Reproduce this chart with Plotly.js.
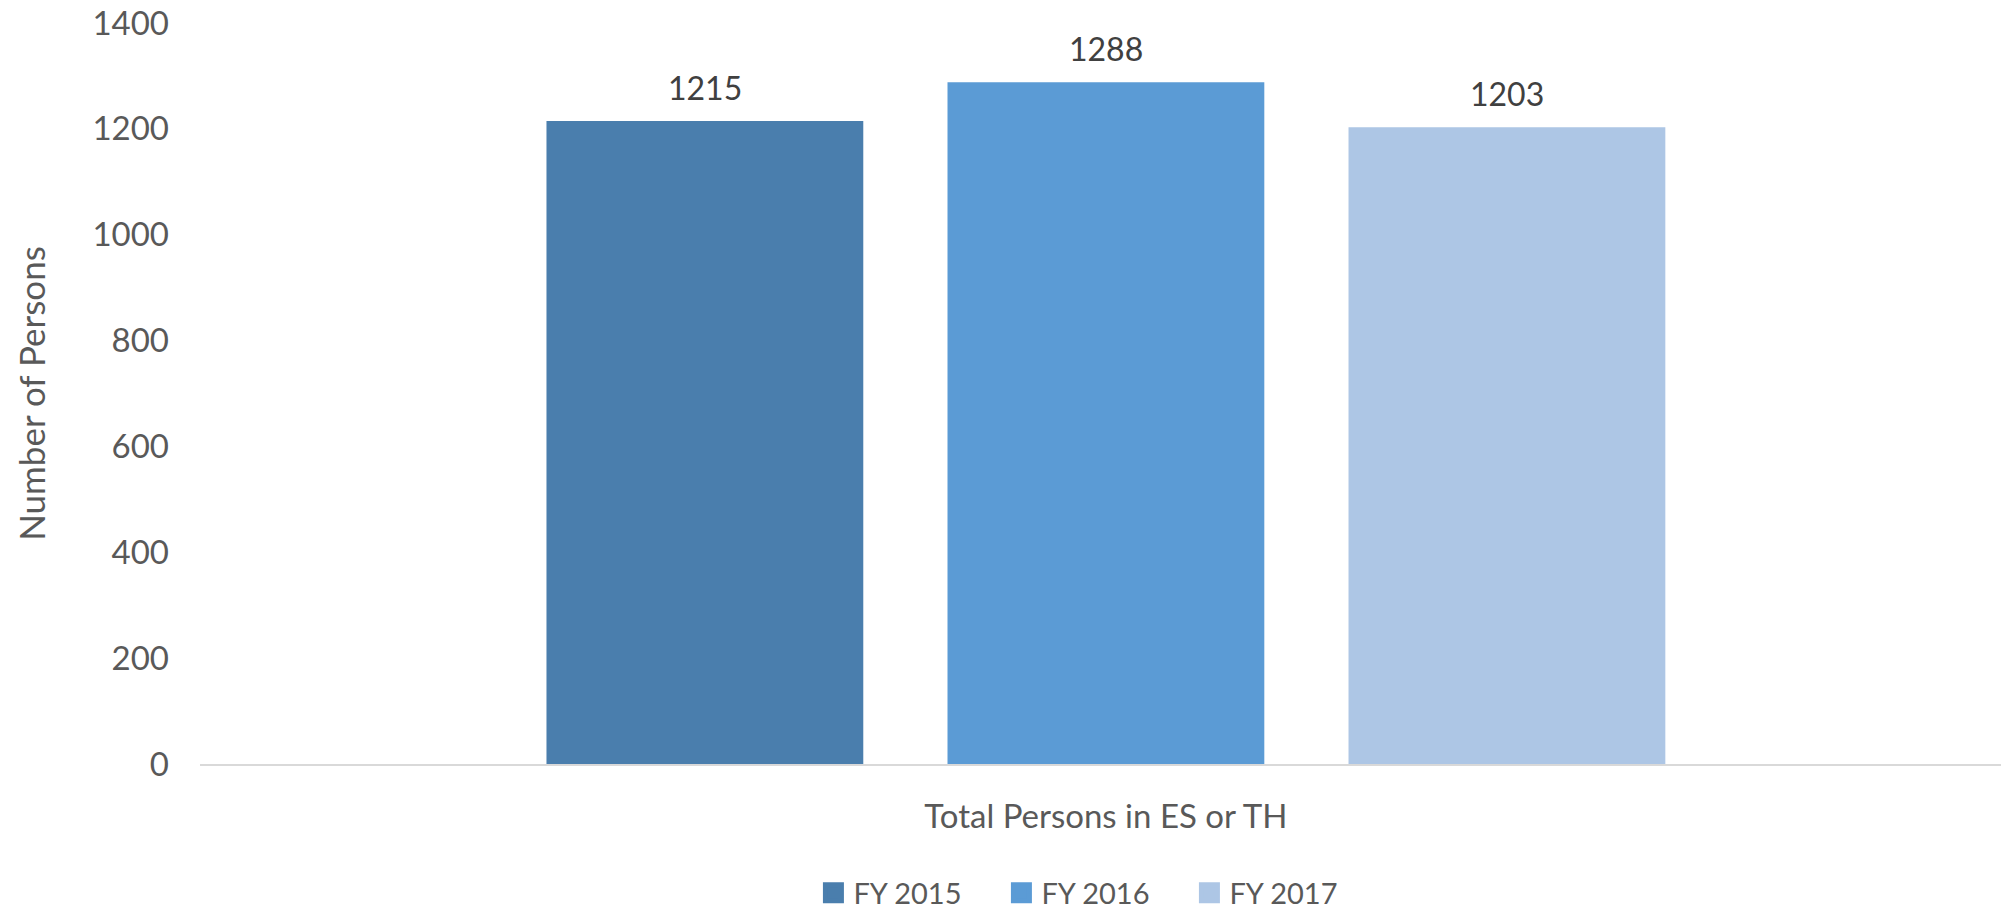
<!DOCTYPE html>
<html>
<head>
<meta charset="utf-8">
<script src="https://cdn.plot.ly/plotly-3.0.1.min.js"></script>
<style>
  html, body { margin: 0; padding: 0; background: #ffffff; }
  #chart { width: 2001px; height: 913px; }
</style>
</head>
<body>
<div id="chart"></div>
<script>
// ---- data ----
const categories = ['Total Persons in ES or TH'];
const seriesNames = ['FY 2015', 'FY 2016', 'FY 2017'];
const fy2015 = [1215];
const fy2016 = [1288];
const fy2017 = [1203];
const seriesValues = [fy2015, fy2016, fy2017];
const seriesColors = ['#4a7ead', '#5b9bd5', '#adc6e5'];
const yTickValues = [0, 200, 400, 600, 800, 1000, 1200, 1400];

const FONT = 'Lato, "Open Sans", sans-serif';
const BARGAP = 0.332;
const BARGROUPGAP = 0.21;

const traces = [];
// bars (legend shown by proxy markers below)
seriesValues.forEach((vals, k) => {
  traces.push({
    type: 'bar',
    name: seriesNames[k],
    x: categories,
    y: vals,
    marker: { color: seriesColors[k] },
    showlegend: false,
    hoverinfo: 'x+y+name'
  });
});
// legend proxies (square swatches)
seriesNames.forEach((nm, k) => {
  traces.push({
    type: 'scatter',
    mode: 'markers',
    name: nm,
    x: [null],
    y: [null],
    marker: { symbol: 'square', size: 16, color: seriesColors[k],
              line: { color: seriesColors[k], width: 5 } },
    showlegend: true
  });
});

// data labels, placed through the axis scales
const annotations = [];
const slot = (1 - BARGAP) / seriesValues.length;
seriesValues.forEach((vals, k) => {
  vals.forEach((v, i) => {
    annotations.push({
      xref: 'x', yref: 'y',
      x: i + (k - (seriesValues.length - 1) / 2) * slot,
      y: v,
      text: String(v),
      showarrow: false,
      yanchor: 'bottom',
      xanchor: 'center',
      yshift: 12,
      font: { family: FONT, size: 32, color: '#404040' }
    });
  });
});

const layout = {
  width: 2001,
  height: 913,
  margin: { l: 200, r: 0, t: 23, b: 149, pad: 0, autoexpand: false },
  paper_bgcolor: '#ffffff',
  plot_bgcolor: '#ffffff',
  barmode: 'group',
  bargap: BARGAP,
  bargroupgap: BARGROUPGAP,
  showlegend: true,
  font: { family: FONT, color: '#595959' },
  xaxis: {
    type: 'category',
    range: [-0.503, 0.497],
    showgrid: false,
    zeroline: false,
    showline: true,
    linecolor: '#d9d9d9',
    linewidth: 2,
    ticks: '',
    ticklabelstandoff: 22,
    tickfont: { family: FONT, size: 33, color: '#595959' }
  },
  yaxis: {
    range: [0, 1400],
    tickvals: yTickValues,
    showgrid: false,
    zeroline: false,
    showline: false,
    ticks: '',
    ticklabelstandoff: 30,
    tickfont: { family: FONT, size: 33, color: '#595959' },
    title: { text: 'Number of Persons', standoff: 36,
             font: { family: FONT, size: 35, color: '#595959' } }
  },
  legend: {
    orientation: 'h',
    x: 0.3406, xanchor: 'left',
    y: -0.1395, yanchor: 'top',
    entrywidth: 143, entrywidthmode: 'pixels',
    font: { family: FONT, size: 29, color: '#595959' },
    bgcolor: 'rgba(0,0,0,0)'
  },
  annotations: annotations
};

Plotly.newPlot('chart', traces, layout, { staticPlot: true, displayModeBar: false });
</script>
</body>
</html>
